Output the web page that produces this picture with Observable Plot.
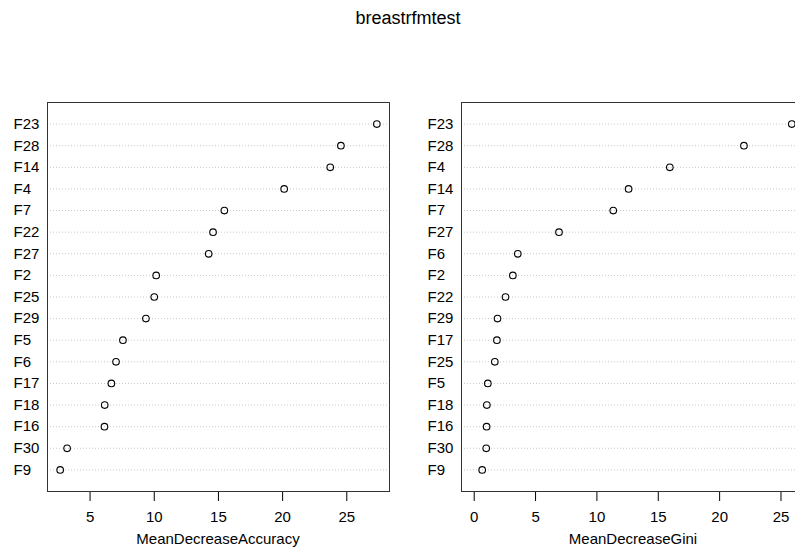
<!DOCTYPE html>
<html>
<head>
<meta charset="utf-8">
<script src="https://cdn.jsdelivr.net/npm/d3@7"></script>
<script src="https://cdn.jsdelivr.net/npm/@observablehq/plot@0.6"></script>
<style>
  html, body { margin: 0; padding: 0; background: #fff; overflow: hidden; }
  #root { position: relative; width: 795px; height: 548px; overflow: hidden; font-family: "Liberation Sans", Arial, Helvetica, sans-serif; color: #000; }
  .abs { position: absolute; line-height: 1; white-space: nowrap; }
  #title { top: 9px; left: 408px; transform: translateX(-50%); font-size: 18px; }
  .xlab { top: 531px; font-size: 15px; transform: translateX(-50%); }
  .panel { position: absolute; top: 0; }
  .panel svg { max-width: none !important; display: block; }
</style>
</head>
<body>
<div id="root">
  <div id="title" class="abs">breastrfmtest</div>
  <div id="p1" class="panel" style="left:0px; width:400px"></div>
  <div id="p2" class="panel" style="left:400px; width:406px"></div>
  <div class="abs xlab" style="left:218px">MeanDecreaseAccuracy</div>
  <div class="abs xlab" style="left:633px">MeanDecreaseGini</div>
</div>
<script>
// Panel 1: MeanDecreaseAccuracy (top to bottom)
const accNames  = ["F23","F28","F14","F4","F7","F22","F27","F2","F25","F29","F5","F6","F17","F18","F16","F30","F9"];
const accValues = [27.34,24.54,23.71,20.12,15.46,14.58,14.24,10.15,10.00,9.35,7.56,7.02,6.66,6.14,6.12,3.21,2.67];
const accTicks  = [5,10,15,20,25];

// Panel 2: MeanDecreaseGini (top to bottom)
const giniNames  = ["F23","F28","F4","F14","F7","F27","F6","F2","F22","F29","F17","F25","F5","F18","F16","F30","F9"];
const giniValues = [25.88,21.98,15.94,12.58,11.33,6.91,3.55,3.15,2.55,1.90,1.85,1.68,1.11,1.03,1.01,0.98,0.65];
const giniTicks  = [0,5,10,15,20,25];

const font = '"Liberation Sans", Arial, Helvetica, sans-serif';

function panel(names, values, ticks, xmin, opts) {
  const data = names.map((n, i) => ({name: n, value: values[i]}));
  const xmax = d3.max(values);
  const ext = 0.04 * (xmax - xmin);
  return Plot.plot({
    width: opts.width,
    height: 548,
    marginTop: 102,
    marginBottom: 57,
    marginLeft: opts.marginLeft,
    marginRight: opts.marginRight,
    style: {fontFamily: font, fontSize: "15px", color: "#000", background: "transparent", maxWidth: "none"},
    x: {domain: [xmin - ext, xmax + ext]},
    y: {type: "point", domain: names, padding: 1, round: false},
    marks: [
      Plot.gridY(names, {stroke: "#c4c9d6", strokeOpacity: 1, strokeDasharray: "1,2"}),
      Plot.axisY({tickSize: 0, tickPadding: 0, dx: -34, textAnchor: "start", fontSize: 15, label: null, fill: "#000"}),
      Plot.axisX({ticks: ticks, tickSize: 10, tickPadding: 10, fontSize: 15, label: null, stroke: "#000", fill: "#000"}),
      Plot.frame({stroke: "#333", strokeWidth: 1}),
      Plot.dot(data, {x: "value", y: "name", r: 3.3, stroke: "#000", strokeWidth: 1.1})
    ]
  });
}

const minAcc = d3.min(accValues);
document.getElementById("p1").appendChild(panel(accNames, accValues, accTicks, minAcc, {width: 400, marginLeft: 47, marginRight: 11}));
document.getElementById("p2").appendChild(panel(giniNames, giniValues, giniTicks, 0, {width: 406, marginLeft: 61, marginRight: 2}));
</script>
</body>
</html>
